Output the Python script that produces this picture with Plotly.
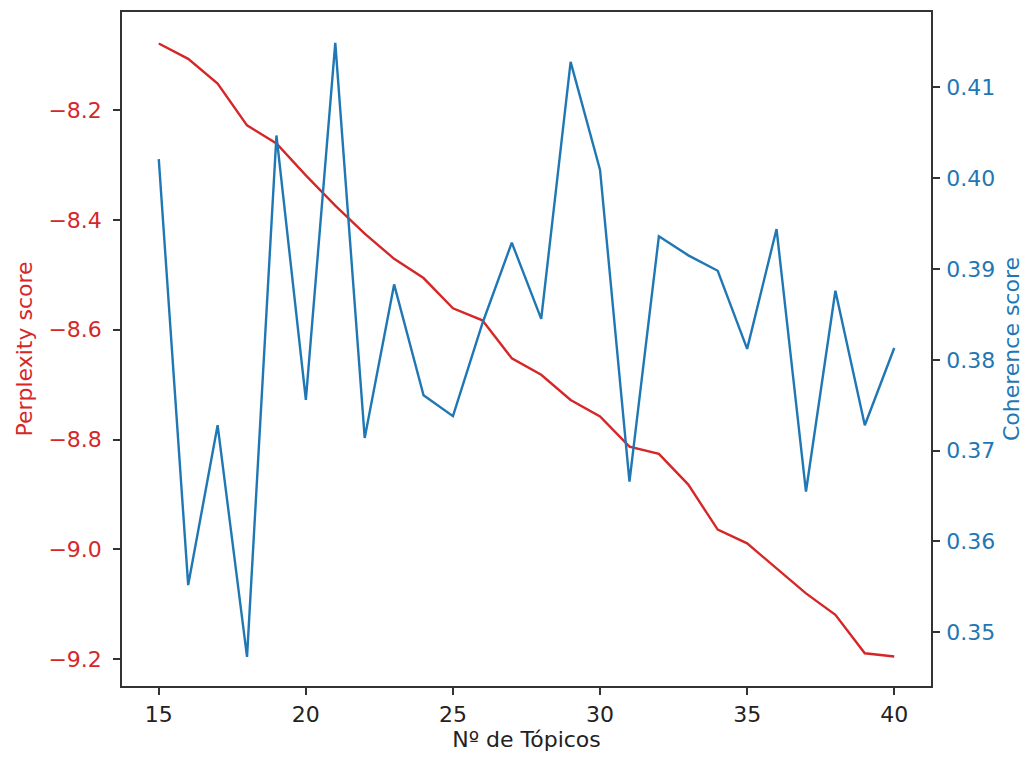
import plotly.graph_objects as go

topics = list(range(15, 41))
perplexity = [-8.079, -8.107, -8.152, -8.228, -8.261, -8.319, -8.374, -8.425, -8.471, -8.506,
              -8.561, -8.583, -8.652, -8.682, -8.728, -8.758, -8.813, -8.826, -8.882, -8.964,
              -8.989, -9.034, -9.080, -9.119, -9.189, -9.195]
coherence = [0.4021, 0.3552, 0.3728, 0.3473, 0.4047, 0.3756, 0.4149, 0.3714, 0.3883, 0.3761,
             0.3738, 0.3840, 0.3929, 0.3845, 0.4128, 0.4009, 0.3666, 0.3936, 0.3915, 0.3898,
             0.3812, 0.3944, 0.3655, 0.3876, 0.3728, 0.3813]

x_ticks = [15, 20, 25, 30, 35, 40]
y1_ticks = [-9.2, -9.0, -8.8, -8.6, -8.4, -8.2]
y1_text = ["\u22129.2", "\u22129.0", "\u22128.8", "\u22128.6", "\u22128.4", "\u22128.2"]
y2_ticks = [0.35, 0.36, 0.37, 0.38, 0.39, 0.40, 0.41]

RED = "#d62728"
BLUE = "#1f77b4"
AXC = "#333333"
FONT = "DejaVu Sans"
FS = 22

axis_common = dict(ticks="outside", ticklen=7, tickwidth=1.6, tickcolor=AXC,
                   showline=True, linecolor=AXC, linewidth=1.6,
                   showgrid=False, zeroline=False)

fig = go.Figure()
fig.add_trace(go.Scatter(x=topics, y=perplexity, mode="lines",
                         line=dict(color=RED, width=2.4), yaxis="y", showlegend=False))
fig.add_trace(go.Scatter(x=topics, y=coherence, mode="lines",
                         line=dict(color=BLUE, width=2.4), yaxis="y2", showlegend=False))

fig.update_layout(
    width=1016, height=744,
    margin=dict(l=114, r=93, t=4, b=66, autoexpand=False),
    paper_bgcolor="white", plot_bgcolor="white",
    font=dict(family=FONT, size=FS, color="black"),
    xaxis=dict(range=[13.75, 41.25], tickvals=x_ticks, mirror=True, ticklabelstandoff=1,
               title=dict(text="Nº de Tópicos", font=dict(size=FS, color="#222"), standoff=16),
               tickfont=dict(size=FS, color="#222"), **axis_common),
    yaxis=dict(range=[-9.2486, -8.0217], tickvals=y1_ticks, ticktext=y1_text, ticklabelstandoff=7,
               title=dict(text="Perplexity score", font=dict(size=FS, color=RED), standoff=10),
               tickfont=dict(size=FS, color=RED), **axis_common),
    yaxis2=dict(range=[0.34409, 0.41829], tickvals=y2_ticks, tickformat=".2f",
                overlaying="y", side="right", ticklabelstandoff=2,
                title=dict(text="Coherence score", font=dict(size=FS, color=BLUE), standoff=16),
                tickfont=dict(size=FS, color=BLUE), **axis_common),
)

fig.write_html("out.html")
